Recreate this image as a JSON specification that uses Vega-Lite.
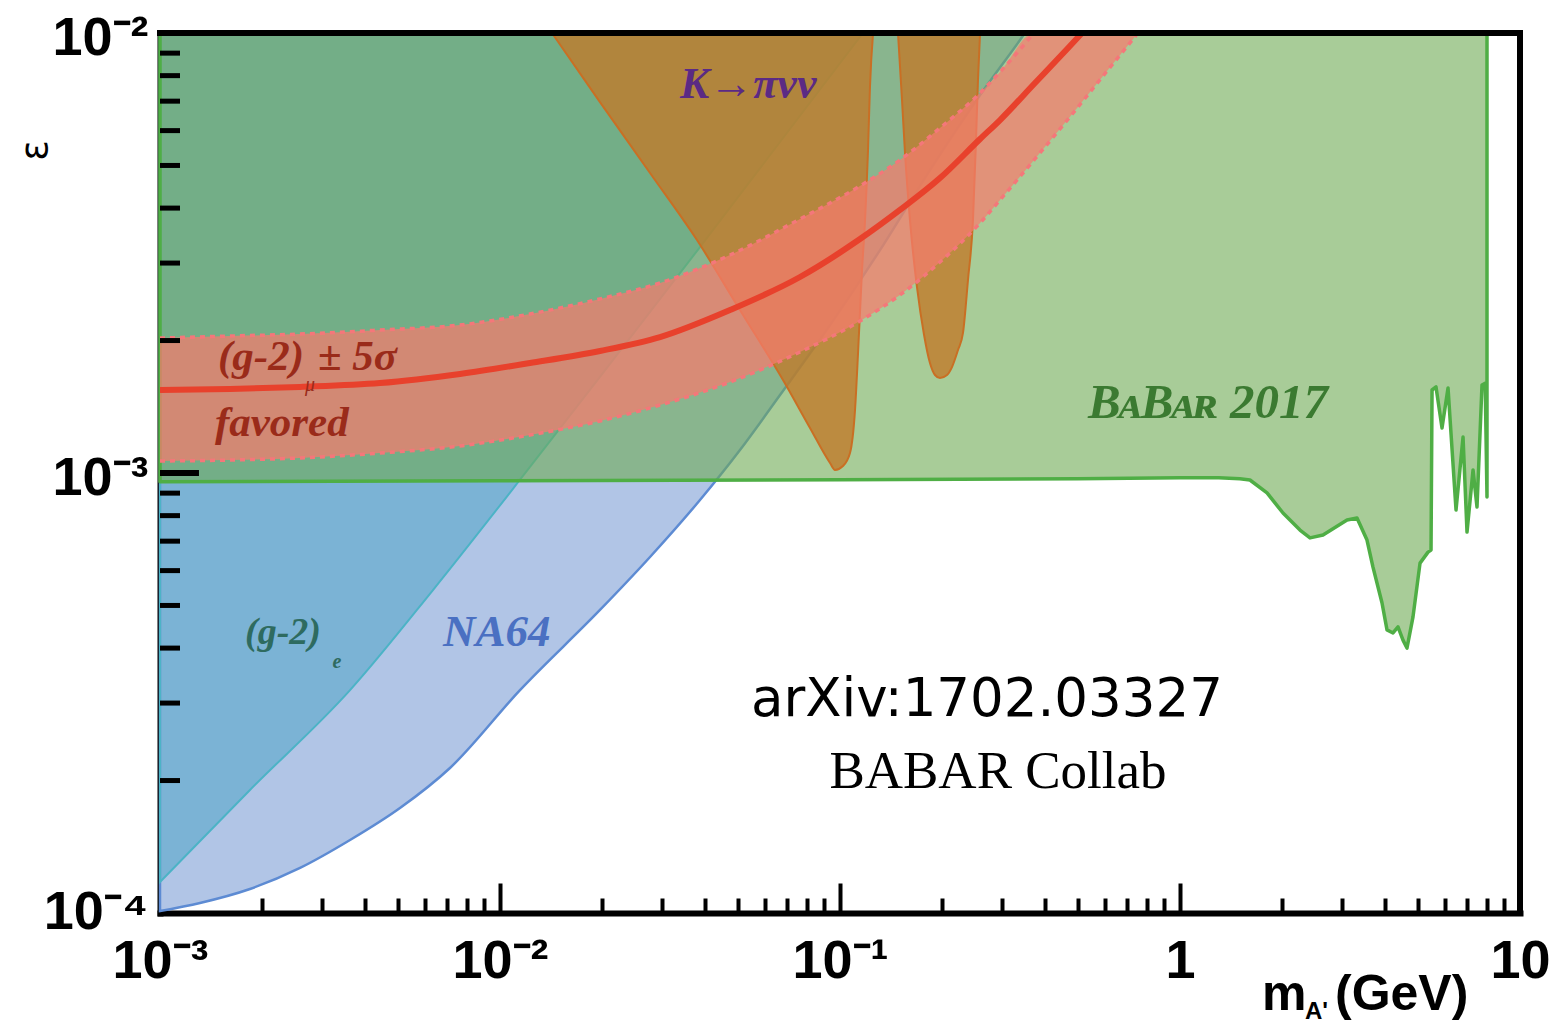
{
  "$schema": "https://vega.github.io/schema/vega-lite/v6.json",
  "width": 1360,
  "height": 880,
  "autosize": {"type": "none"},
  "padding": {"left": 160, "top": 33, "right": 35, "bottom": 110},
  "background": "white",
  "config": {
    "view": {"stroke": null},
    "axis": {
      "domainColor": "black", "domainWidth": 6, "domainCap": "square",
      "tickColor": "black", "tickWidth": 4, "grid": false,
      "labelColor": "black", "labelFont": "Liberation Sans Narrow, Liberation Sans",
      "labelFontWeight": "bold", "labelFontSize": 54, "zindex": 1,
      "labelFlush": false, "labelOverlap": false, "titleColor": "black"
    }
  },
  "datasets": {
    "na64": [
      {"m": 0.001, "eps": 0.000101}, {"m": 0.001311, "eps": 0.0001054}, {"m": 0.001839, "eps": 0.0001134},
      {"m": 0.002582, "eps": 0.0001266}, {"m": 0.003622, "eps": 0.0001465}, {"m": 0.005079, "eps": 0.0001732},
      {"m": 0.007126, "eps": 0.0002136}, {"m": 0.01145, "eps": 0.0003211}, {"m": 0.01968, "eps": 0.0004883},
      {"m": 0.02762, "eps": 0.0006444}, {"m": 0.03874, "eps": 0.0008683}, {"m": 0.05079, "eps": 0.001128},
      {"m": 0.06661, "eps": 0.001504}, {"m": 0.09346, "eps": 0.002169}, {"m": 0.1311, "eps": 0.003211},
      {"m": 0.1839, "eps": 0.004883}, {"m": 0.2582, "eps": 0.007228}, {"m": 0.3384, "eps": 0.00964},
      {"m": 0.35, "eps": 0.01}
    ],
    "ge": [
      {"m": 0.001, "eps": 0.0001176}, {"m": 0.001839, "eps": 0.0001904}, {"m": 0.003622, "eps": 0.0003211},
      {"m": 0.006351, "eps": 0.0005421}, {"m": 0.01225, "eps": 0.001032}, {"m": 0.01968, "eps": 0.001653},
      {"m": 0.03874, "eps": 0.003262}, {"m": 0.06661, "eps": 0.005653}, {"m": 0.1168, "eps": 0.01}
    ],
    "babar": [
      {"m": 0.001, "eps": 0.000955}, {"m": 0.01, "eps": 0.00096}, {"m": 0.1, "eps": 0.000965},
      {"m": 0.5, "eps": 0.00097}, {"m": 1.0, "eps": 0.000975}, {"m": 1.3, "eps": 0.000975},
      {"m": 1.5, "eps": 0.00097}, {"m": 1.606, "eps": 0.000964}, {"m": 1.803, "eps": 0.000901},
      {"m": 2.009, "eps": 0.000811}, {"m": 2.254, "eps": 0.000742}, {"m": 2.412, "eps": 0.000712},
      {"m": 2.634, "eps": 0.000723}, {"m": 3.099, "eps": 0.000782}, {"m": 3.316, "eps": 0.00079},
      {"m": 3.548, "eps": 0.000704}, {"m": 3.695, "eps": 0.000611}, {"m": 3.927, "eps": 0.000507},
      {"m": 4.063, "eps": 0.00044}, {"m": 4.231, "eps": 0.000433}, {"m": 4.377, "eps": 0.000447},
      {"m": 4.528, "eps": 0.000417}, {"m": 4.651, "eps": 0.0004}, {"m": 4.845, "eps": 0.000471},
      {"m": 5.081, "eps": 0.000624}, {"m": 5.364, "eps": 0.000661}, {"m": 5.474, "eps": 0.000668},
      {"m": 5.512, "eps": 0.001544}, {"m": 5.662, "eps": 0.001569}, {"m": 5.897, "eps": 0.001266},
      {"m": 6.142, "eps": 0.001561}, {"m": 6.484, "eps": 0.000824}, {"m": 6.799, "eps": 0.001207},
      {"m": 6.985, "eps": 0.000734}, {"m": 7.276, "eps": 0.001016}, {"m": 7.474, "eps": 0.000837},
      {"m": 7.731, "eps": 0.001585}, {"m": 7.9, "eps": 0.0016}, {"m": 7.997, "eps": 0.000882}
    ],
    "kpinn": [
      {"shape": "a", "m": 0.01422, "eps": 0.01}, {"shape": "a", "m": 0.01968, "eps": 0.006967},
      {"shape": "a", "m": 0.02762, "eps": 0.004806}, {"shape": "a", "m": 0.03796, "eps": 0.003384},
      {"shape": "a", "m": 0.05079, "eps": 0.002347}, {"shape": "a", "m": 0.06798, "eps": 0.001627},
      {"shape": "a", "m": 0.08162, "eps": 0.001266}, {"shape": "a", "m": 0.09346, "eps": 0.001054},
      {"shape": "a", "m": 0.09667, "eps": 0.001016}, {"shape": "a", "m": 0.102, "eps": 0.001037},
      {"shape": "a", "m": 0.107, "eps": 0.00111}, {"shape": "a", "m": 0.1107, "eps": 0.00139},
      {"shape": "a", "m": 0.113, "eps": 0.001874}, {"shape": "a", "m": 0.1161, "eps": 0.002893},
      {"shape": "a", "m": 0.1185, "eps": 0.003758}, {"shape": "a", "m": 0.1209, "eps": 0.005421},
      {"shape": "a", "m": 0.1225, "eps": 0.007539}, {"shape": "a", "m": 0.1251, "eps": 0.01},
      {"shape": "b", "m": 0.1481, "eps": 0.01}, {"shape": "b", "m": 0.1522, "eps": 0.00704},
      {"shape": "b", "m": 0.1553, "eps": 0.005337}, {"shape": "b", "m": 0.1606, "eps": 0.003758},
      {"shape": "b", "m": 0.1684, "eps": 0.002647}, {"shape": "b", "m": 0.1767, "eps": 0.002059},
      {"shape": "b", "m": 0.1839, "eps": 0.001778}, {"shape": "b", "m": 0.1903, "eps": 0.00167},
      {"shape": "b", "m": 0.1968, "eps": 0.001644}, {"shape": "b", "m": 0.2064, "eps": 0.00167},
      {"shape": "b", "m": 0.2135, "eps": 0.001741}, {"shape": "b", "m": 0.2224, "eps": 0.001904},
      {"shape": "b", "m": 0.23, "eps": 0.002081}, {"shape": "b", "m": 0.2379, "eps": 0.002745},
      {"shape": "b", "m": 0.2461, "eps": 0.003758}, {"shape": "b", "m": 0.2512, "eps": 0.005712},
      {"shape": "b", "m": 0.2546, "eps": 0.00782}, {"shape": "b", "m": 0.2582, "eps": 0.01}
    ],
    "band": [
      {"m": 0.001, "eps": 0.001065, "eps2": 0.002026}, {"m": 0.001606, "eps": 0.00107, "eps2": 0.002048},
      {"m": 0.002582, "eps": 0.001082, "eps2": 0.002069}, {"m": 0.004437, "eps": 0.00111, "eps2": 0.002113},
      {"m": 0.007628, "eps": 0.001152, "eps2": 0.002169}, {"m": 0.01225, "eps": 0.00122, "eps2": 0.002298},
      {"m": 0.01968, "eps": 0.001313, "eps2": 0.002487}, {"m": 0.02956, "eps": 0.001427, "eps2": 0.002703},
      {"m": 0.04748, "eps": 0.00161, "eps2": 0.003129}, {"m": 0.07628, "eps": 0.001884, "eps2": 0.003778},
      {"m": 0.1145, "eps": 0.002215, "eps2": 0.004491}, {"m": 0.1501, "eps": 0.002539, "eps2": 0.005145},
      {"m": 0.1968, "eps": 0.003016, "eps2": 0.006082}, {"m": 0.2582, "eps": 0.0037, "eps2": 0.007305},
      {"m": 0.2956, "eps": 0.004174, "eps2": 0.008153}, {"m": 0.3721, "eps": 0.005145, "eps2": 0.01},
      {"m": 0.4716, "eps": 0.006409, "eps2": 0.01}, {"m": 0.5937, "eps": 0.007984, "eps2": 0.01},
      {"m": 0.7524, "eps": 0.01, "eps2": 0.01}
    ],
    "gmu": [
      {"m": 0.001, "eps": 0.001544}, {"m": 0.001606, "eps": 0.001552}, {"m": 0.002582, "eps": 0.001569},
      {"m": 0.004437, "eps": 0.001601}, {"m": 0.007628, "eps": 0.001679}, {"m": 0.01225, "eps": 0.001778},
      {"m": 0.01968, "eps": 0.001894}, {"m": 0.02956, "eps": 0.002037}, {"m": 0.04748, "eps": 0.002347},
      {"m": 0.07628, "eps": 0.002789}, {"m": 0.1145, "eps": 0.003401}, {"m": 0.1501, "eps": 0.003961},
      {"m": 0.1968, "eps": 0.00468}, {"m": 0.2582, "eps": 0.005742}, {"m": 0.2956, "eps": 0.006342},
      {"m": 0.3721, "eps": 0.007656}, {"m": 0.4716, "eps": 0.009294}, {"m": 0.5149, "eps": 0.01}
    ],
    "yticks": [
      {"eps": 0.0002}, {"eps": 0.0003}, {"eps": 0.0004}, {"eps": 0.0005}, {"eps": 0.0006}, {"eps": 0.0007},
      {"eps": 0.0008}, {"eps": 0.0009}, {"eps": 0.002}, {"eps": 0.003}, {"eps": 0.004}, {"eps": 0.005},
      {"eps": 0.006}, {"eps": 0.007}, {"eps": 0.008}, {"eps": 0.009}
    ],
    "labels": [
      {"g": "gmu", "text": "(g-2)", "m": 0.001481, "eps": 0.001835},
      {"g": "gmu", "text": "± 5σ", "m": 0.002915, "eps": 0.001835},
      {"g": "gmu", "text": "favored", "m": 0.001451, "eps": 0.001299},
      {"g": "gmusub", "text": "μ", "m": 0.002761, "eps": 0.001585},
      {"g": "kpi", "text": "K→πνν", "m": 0.03384, "eps": 0.007616},
      {"g": "babar", "text": "BᴀBᴀʀ 2017", "m": 0.5363, "eps": 0.001442},
      {"g": "ge", "text": "(g-2)", "m": 0.001778, "eps": 0.0004329},
      {"g": "gesub", "text": "e", "m": 0.003316, "eps": 0.000372},
      {"g": "na64", "text": "NA64", "m": 0.006798, "eps": 0.0004351},
      {"g": "arxiv", "text": "arXiv:1702.03327", "m": 0.2706, "eps": 0.0003049},
      {"g": "collab", "text": "BABAR Collab", "m": 0.2915, "eps": 0.0002091},
      {"g": "xt", "text": "m", "m": 1.742, "eps": 0.00006513},
      {"g": "xt", "text": "(GeV)", "m": 2.857, "eps": 0.00006513},
      {"g": "xtsub", "text": "A'", "m": 2.331, "eps": 0.00005957}
    ]
  },
  "layer": [
    {
      "data": {"name": "na64"},
      "mark": {"type": "area", "interpolate": "monotone", "fill": "#b1c5e6", "fillOpacity": 1, "stroke": "#5d8bd3", "strokeWidth": 2.5},
      "encoding": {
        "x": {
          "field": "m", "type": "quantitative",
          "scale": {"type": "log", "domain": [0.001, 10]},
          "axis": {
            "title": null,
            "values": [0.001, 0.002, 0.003, 0.004, 0.005, 0.006, 0.007, 0.008, 0.009, 0.01, 0.02, 0.03, 0.04, 0.05, 0.06, 0.07, 0.08, 0.09, 0.1, 0.2, 0.3, 0.4, 0.5, 0.6, 0.7, 0.8, 0.9, 1, 2, 3, 4, 5, 6, 7, 8, 9, 10],
            "labelExpr": "datum.value == 0.001 ? '10⁻³' : datum.value == 0.01 ? '10⁻²' : datum.value == 0.1 ? '10⁻¹' : datum.value == 1 ? '1' : datum.value == 10 ? '10' : ''",
            "tickSize": {"condition": {"test": "datum.value == 0.001 || datum.value == 0.01 || datum.value == 0.1 || datum.value == 1 || datum.value == 10", "value": -30}, "value": -15},
            "labelPadding": 51
          }
        },
        "y": {
          "field": "eps", "type": "quantitative",
          "scale": {"type": "log", "domain": [0.0001, 0.01]},
          "axis": {
            "title": "ε", "titleFont": "DejaVu Sans", "titleFontSize": 38, "titleFontWeight": "normal",
            "titleX": -125, "titleY": 117, "titleAngle": -90, "titleAlign": "center", "titleBaseline": "middle",
            "values": [0.0001, 0.001, 0.01],
            "labelExpr": "datum.value == 0.0001 ? '10⁻⁴' : datum.value == 0.001 ? '10⁻³' : '10⁻²'",
            "ticks": false,
            "labelPadding": 12,
            "labelOffset": {"condition": {"test": "datum.value == 0.0001", "value": -1}, "value": 5}
          }
        },
        "y2": {"datum": 0.01}
      }
    },
    {
      "data": {"name": "ge"},
      "mark": {"type": "area", "interpolate": "monotone", "fill": "#46a2c4", "fillOpacity": 0.5, "stroke": "#4cb3c6", "strokeWidth": 2},
      "encoding": {
        "x": {"field": "m", "type": "quantitative", "scale": {"type": "log", "domain": [0.001, 10]}},
        "y": {"field": "eps", "type": "quantitative", "scale": {"type": "log", "domain": [0.0001, 0.01]}},
        "y2": {"datum": 0.01}
      }
    },
    {
      "data": {"name": "babar"},
      "mark": {"type": "area", "fill": "#6eaa53", "fillOpacity": 0.6, "stroke": "#4fae45", "strokeWidth": 3.5, "strokeJoin": "round"},
      "encoding": {
        "x": {"field": "m", "type": "quantitative", "scale": {"type": "log", "domain": [0.001, 10]}},
        "y": {"field": "eps", "type": "quantitative", "scale": {"type": "log", "domain": [0.0001, 0.01]}},
        "y2": {"datum": 0.01}
      }
    },
    {
      "data": {"name": "kpinn"},
      "mark": {"type": "area", "interpolate": "monotone", "fill": "#c07a2b", "fillOpacity": 0.8, "stroke": "#c96f24", "strokeWidth": 2},
      "encoding": {
        "x": {"field": "m", "type": "quantitative", "scale": {"type": "log", "domain": [0.001, 10]}},
        "y": {"field": "eps", "type": "quantitative", "scale": {"type": "log", "domain": [0.0001, 0.01]}},
        "y2": {"datum": 0.01},
        "detail": {"field": "shape", "type": "nominal"}
      }
    },
    {
      "data": {"name": "band"},
      "mark": {"type": "area", "interpolate": "monotone", "fill": "#f77c6e", "fillOpacity": 0.72},
      "encoding": {
        "x": {"field": "m", "type": "quantitative", "scale": {"type": "log", "domain": [0.001, 10]}},
        "y": {"field": "eps", "type": "quantitative", "scale": {"type": "log", "domain": [0.0001, 0.01]}},
        "y2": {"field": "eps2"}
      }
    },
    {
      "data": {"name": "band"},
      "mark": {"type": "line", "interpolate": "monotone", "color": "#f4777a", "strokeWidth": 3.5, "strokeDash": [5, 5]},
      "encoding": {
        "x": {"field": "m", "type": "quantitative", "scale": {"type": "log", "domain": [0.001, 10]}},
        "y": {"field": "eps", "type": "quantitative", "scale": {"type": "log", "domain": [0.0001, 0.01]}}
      }
    },
    {
      "data": {"name": "band"},
      "transform": [{"filter": "datum.m < 0.4"}],
      "mark": {"type": "line", "interpolate": "monotone", "color": "#f4777a", "strokeWidth": 3.5, "strokeDash": [5, 5]},
      "encoding": {
        "x": {"field": "m", "type": "quantitative", "scale": {"type": "log", "domain": [0.001, 10]}},
        "y": {"field": "eps2", "type": "quantitative", "scale": {"type": "log", "domain": [0.0001, 0.01]}}
      }
    },
    {
      "data": {"name": "gmu"},
      "mark": {"type": "line", "interpolate": "monotone", "color": "#e8412c", "strokeWidth": 6},
      "encoding": {
        "x": {"field": "m", "type": "quantitative", "scale": {"type": "log", "domain": [0.001, 10]}},
        "y": {"field": "eps", "type": "quantitative", "scale": {"type": "log", "domain": [0.0001, 0.01]}}
      }
    },
    {
      "data": {"name": "labels"},
      "transform": [{"filter": "datum.g == 'gmu'"}],
      "mark": {"type": "text", "align": "left", "baseline": "middle", "font": "Liberation Serif", "fontStyle": "italic", "fontWeight": "bold", "fontSize": 43, "color": "#9a2b1a"},
      "encoding": {
        "x": {"field": "m", "type": "quantitative", "scale": {"type": "log", "domain": [0.001, 10]}},
        "y": {"field": "eps", "type": "quantitative", "scale": {"type": "log", "domain": [0.0001, 0.01]}},
        "text": {"field": "text"}
      }
    },
    {
      "data": {"name": "labels"},
      "transform": [{"filter": "datum.g == 'gmusub'"}],
      "mark": {"type": "text", "align": "center", "baseline": "middle", "font": "Liberation Serif", "fontStyle": "italic", "fontSize": 20, "color": "#9a2b1a"},
      "encoding": {
        "x": {"field": "m", "type": "quantitative", "scale": {"type": "log", "domain": [0.001, 10]}},
        "y": {"field": "eps", "type": "quantitative", "scale": {"type": "log", "domain": [0.0001, 0.01]}},
        "text": {"field": "text"}
      }
    },
    {
      "data": {"name": "labels"},
      "transform": [{"filter": "datum.g == 'kpi'"}],
      "mark": {"type": "text", "align": "left", "baseline": "middle", "font": "Liberation Serif", "fontStyle": "italic", "fontWeight": "bold", "fontSize": 44, "color": "#5b2a84"},
      "encoding": {
        "x": {"field": "m", "type": "quantitative", "scale": {"type": "log", "domain": [0.001, 10]}},
        "y": {"field": "eps", "type": "quantitative", "scale": {"type": "log", "domain": [0.0001, 0.01]}},
        "text": {"field": "text"}
      }
    },
    {
      "data": {"name": "labels"},
      "transform": [{"filter": "datum.g == 'babar'"}],
      "mark": {"type": "text", "align": "left", "baseline": "middle", "font": "Liberation Serif", "fontStyle": "italic", "fontWeight": "bold", "fontSize": 49, "color": "#3b7a31"},
      "encoding": {
        "x": {"field": "m", "type": "quantitative", "scale": {"type": "log", "domain": [0.001, 10]}},
        "y": {"field": "eps", "type": "quantitative", "scale": {"type": "log", "domain": [0.0001, 0.01]}},
        "text": {"field": "text"}
      }
    },
    {
      "data": {"name": "labels"},
      "transform": [{"filter": "datum.g == 'ge'"}],
      "mark": {"type": "text", "align": "left", "baseline": "middle", "font": "Liberation Serif", "fontStyle": "italic", "fontWeight": "bold", "fontSize": 38, "color": "#2e6b60"},
      "encoding": {
        "x": {"field": "m", "type": "quantitative", "scale": {"type": "log", "domain": [0.001, 10]}},
        "y": {"field": "eps", "type": "quantitative", "scale": {"type": "log", "domain": [0.0001, 0.01]}},
        "text": {"field": "text"}
      }
    },
    {
      "data": {"name": "labels"},
      "transform": [{"filter": "datum.g == 'gesub'"}],
      "mark": {"type": "text", "align": "center", "baseline": "middle", "font": "Liberation Serif", "fontStyle": "italic", "fontWeight": "bold", "fontSize": 20, "color": "#2e6b60"},
      "encoding": {
        "x": {"field": "m", "type": "quantitative", "scale": {"type": "log", "domain": [0.001, 10]}},
        "y": {"field": "eps", "type": "quantitative", "scale": {"type": "log", "domain": [0.0001, 0.01]}},
        "text": {"field": "text"}
      }
    },
    {
      "data": {"name": "labels"},
      "transform": [{"filter": "datum.g == 'na64'"}],
      "mark": {"type": "text", "align": "left", "baseline": "middle", "font": "Liberation Serif", "fontStyle": "italic", "fontWeight": "bold", "fontSize": 45, "color": "#4a70c2"},
      "encoding": {
        "x": {"field": "m", "type": "quantitative", "scale": {"type": "log", "domain": [0.001, 10]}},
        "y": {"field": "eps", "type": "quantitative", "scale": {"type": "log", "domain": [0.0001, 0.01]}},
        "text": {"field": "text"}
      }
    },
    {
      "data": {"name": "labels"},
      "transform": [{"filter": "datum.g == 'arxiv'"}],
      "mark": {"type": "text", "align": "center", "baseline": "middle", "font": "DejaVu Sans", "fontSize": 53, "color": "black"},
      "encoding": {
        "x": {"field": "m", "type": "quantitative", "scale": {"type": "log", "domain": [0.001, 10]}},
        "y": {"field": "eps", "type": "quantitative", "scale": {"type": "log", "domain": [0.0001, 0.01]}},
        "text": {"field": "text"}
      }
    },
    {
      "data": {"name": "labels"},
      "transform": [{"filter": "datum.g == 'collab'"}],
      "mark": {"type": "text", "align": "center", "baseline": "middle", "font": "Liberation Serif", "fontSize": 53, "color": "black"},
      "encoding": {
        "x": {"field": "m", "type": "quantitative", "scale": {"type": "log", "domain": [0.001, 10]}},
        "y": {"field": "eps", "type": "quantitative", "scale": {"type": "log", "domain": [0.0001, 0.01]}},
        "text": {"field": "text"}
      }
    },
    {
      "data": {"name": "labels"},
      "transform": [{"filter": "datum.g == 'xt'"}],
      "mark": {"type": "text", "align": "left", "baseline": "middle", "font": "Liberation Sans", "fontWeight": "bold", "fontSize": 50, "color": "black"},
      "encoding": {
        "x": {"field": "m", "type": "quantitative", "scale": {"type": "log", "domain": [0.001, 10]}},
        "y": {"field": "eps", "type": "quantitative", "scale": {"type": "log", "domain": [0.0001, 0.01]}},
        "text": {"field": "text"}
      }
    },
    {
      "data": {"name": "labels"},
      "transform": [{"filter": "datum.g == 'xtsub'"}],
      "mark": {"type": "text", "align": "left", "baseline": "middle", "font": "Liberation Sans", "fontWeight": "bold", "fontSize": 24, "color": "black"},
      "encoding": {
        "x": {"field": "m", "type": "quantitative", "scale": {"type": "log", "domain": [0.001, 10]}},
        "y": {"field": "eps", "type": "quantitative", "scale": {"type": "log", "domain": [0.0001, 0.01]}},
        "text": {"field": "text"}
      }
    },
    {
      "data": {"name": "yticks"},
      "mark": {"type": "rule", "color": "black", "strokeWidth": 5},
      "encoding": {
        "x": {"datum": 0.001, "type": "quantitative", "scale": {"type": "log", "domain": [0.001, 10]}},
        "x2": {"datum": 0.001145},
        "y": {"field": "eps", "type": "quantitative", "scale": {"type": "log", "domain": [0.0001, 0.01]}}
      }
    },
    {
      "data": {"values": [{}]},
      "mark": {"type": "rule", "color": "black", "strokeWidth": 6},
      "encoding": {
        "x": {"datum": 0.001, "type": "quantitative", "scale": {"type": "log", "domain": [0.001, 10]}},
        "x2": {"datum": 0.001302},
        "y": {"datum": 0.001, "type": "quantitative", "scale": {"type": "log", "domain": [0.0001, 0.01]}}
      }
    },
    {
      "data": {"values": [{}]},
      "mark": {"type": "rule", "color": "black", "strokeWidth": 6, "strokeCap": "square"},
      "encoding": {"y": {"datum": 0.01, "type": "quantitative", "scale": {"type": "log", "domain": [0.0001, 0.01]}}}
    },
    {
      "data": {"values": [{}]},
      "mark": {"type": "rule", "color": "black", "strokeWidth": 6, "strokeCap": "square"},
      "encoding": {"x": {"datum": 10, "type": "quantitative", "scale": {"type": "log", "domain": [0.001, 10]}}}
    }
  ]
}
